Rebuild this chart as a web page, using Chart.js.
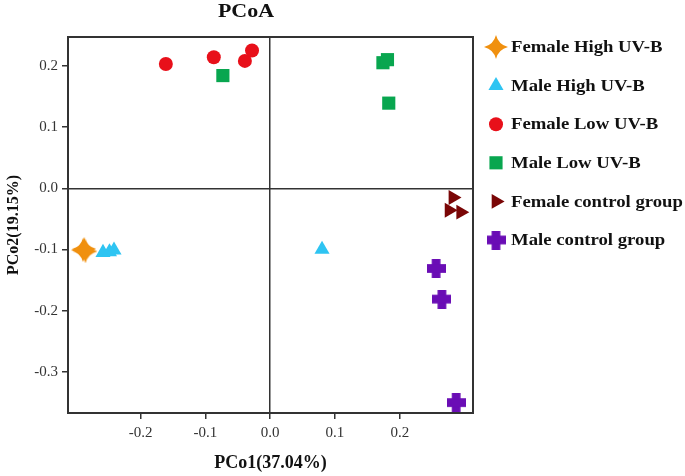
<!DOCTYPE html>
<html lang="en">
<head>
<meta charset="UTF-8">
<title>PCoA</title>
<style>
  body { margin: 0; background: #fff; }
</style>
</head>
<body>
<canvas id="myChart" width="685" height="476"></canvas>
<script src="https://cdn.jsdelivr.net/npm/chart.js@4.4.0/dist/chart.umd.min.js"></script>
<script>
// grupos y coordenadas
var grupos = ['Female High UV-B', 'Male High UV-B', 'Female Low UV-B', 'Male Low UV-B', 'Female control group', 'Male control group'];

var femHighX = [-0.289, -0.287, -0.285];
var femHighY = [-0.101, -0.099, -0.103];

var maleHighX = [-0.258, -0.248, -0.241, 0.080];
var maleHighY = [-0.105, -0.104, -0.101, -0.100];

var femLowX = [-0.161, -0.087, -0.039, -0.028];
var femLowY = [0.203, 0.214, 0.208, 0.225];

var maleLowX = [-0.073, 0.174, 0.181, 0.183];
var maleLowY = [0.184, 0.205, 0.210, 0.139];

var femCtrlX = [0.282, 0.276, 0.294];
var femCtrlY = [-0.015, -0.036, -0.039];

var maleCtrlX = [0.256, 0.265, 0.287];
var maleCtrlY = [-0.131, -0.181, -0.350];

var xTicks = [-0.2, -0.1, 0.0, 0.1, 0.2];
var yTicks = [0.2, 0.1, 0.0, -0.1, -0.2, -0.3];

var colores = ['#F0900F', '#2EC4F2', '#E8101A', '#08A64F', '#7A0606', '#6A0DB5'];

function puntos(xs, ys) {
    return xs.map(function (x, i) { return { x: x, y: ys[i] }; });
}

// estrella de 4 puntas
function estrella(size, color) {
    var c = document.createElement('canvas');
    c.width = size; c.height = size;
    var g = c.getContext('2d');
    var m = size / 2, k = size * 0.1;
    g.fillStyle = color;
    g.beginPath();
    g.moveTo(m, 0);
    g.quadraticCurveTo(m + k, m - k, size, m);
    g.quadraticCurveTo(m + k, m + k, m, size);
    g.quadraticCurveTo(m - k, m + k, 0, m);
    g.quadraticCurveTo(m - k, m - k, m, 0);
    g.fill();
    return c;
}

// cruz gruesa
function cruz(size, color) {
    var c = document.createElement('canvas');
    c.width = size; c.height = size;
    var g = c.getContext('2d');
    var t = size * 0.46, a = (size - t) / 2;
    g.fillStyle = color;
    g.fillRect(a, 0, t, size);
    g.fillRect(0, a, size, t);
    return c;
}

var estiloStar = estrella(24, colores[0]);
var estiloCruz = cruz(19, colores[5]);

var estilos = [
    { pointStyle: estiloStar, radius: 12, rotation: 0 },
    { pointStyle: 'triangle', radius: 8.7, rotation: 0 },
    { pointStyle: 'circle', radius: 7, rotation: 0 },
    { pointStyle: 'rect', radius: 9.3, rotation: 0 },
    { pointStyle: 'triangle', radius: 8.6, rotation: 90 },
    { pointStyle: estiloCruz, radius: 10, rotation: 0 }
];

var series = [
    puntos(femHighX, femHighY),
    puntos(maleHighX, maleHighY),
    puntos(femLowX, femLowY),
    puntos(maleLowX, maleLowY),
    puntos(femCtrlX, femCtrlY),
    puntos(maleCtrlX, maleCtrlY)
];

var datasets = series.map(function (d, i) {
    return {
        label: grupos[i],
        data: d,
        pointStyle: estilos[i].pointStyle,
        pointRadius: estilos[i].radius,
        pointHoverRadius: estilos[i].radius,
        rotation: estilos[i].rotation,
        backgroundColor: colores[i],
        borderColor: colores[i],
        borderWidth: 0
    };
});

var serif = 'Liberation Serif, Times New Roman, serif';

// texto un poco ensanchado, como en la figura original
function textoAncho(ctx, txt, x, y, sx) {
    ctx.save();
    ctx.translate(x, y);
    ctx.scale(sx, 1);
    ctx.fillText(txt, 0, 0);
    ctx.restore();
}

var marco = {
    id: 'marco',
    afterDraw: function (chart) {
        var ctx = chart.ctx, a = chart.chartArea;
        ctx.save();
        ctx.strokeStyle = '#333';
        ctx.lineWidth = 2;
        ctx.strokeRect(a.left, a.top, a.right - a.left, a.bottom - a.top);

        // titulo
        ctx.fillStyle = '#111';
        ctx.font = 'bold 18px ' + serif;
        ctx.textAlign = 'center';
        ctx.textBaseline = 'middle';
        textoAncho(ctx, 'PCoA', 246, 12, 1.22);

        // leyenda
        ctx.font = 'bold 16px ' + serif;
        ctx.textAlign = 'left';
        for (var i = 0; i < grupos.length; i++) {
            var y = 47 + i * 38.6;
            ctx.fillStyle = colores[i];
            Chart.helpers.drawPoint(ctx, {
                pointStyle: estilos[i].pointStyle,
                radius: estilos[i].radius,
                rotation: estilos[i].rotation,
                borderWidth: 0
            }, 496, y);
            ctx.fillStyle = '#111';
            textoAncho(ctx, grupos[i], 511, y + 1, 1.17);
        }
        ctx.restore();
    }
};

function colorCero(c) {
    return (c.tick && c.tick.value === 0) ? '#333' : 'rgba(0,0,0,0)';
}

var ctx = document.getElementById('myChart').getContext('2d');
var myChart = new Chart(ctx, {
    type: 'scatter',
    data: { datasets: datasets },
    options: {
        responsive: false,
        animation: false,
        layout: { padding: { top: 37, right: 212, left: 0, bottom: 0 } },
        plugins: {
            legend: { display: false },
            tooltip: { enabled: false }
        },
        scales: {
            x: {
                type: 'linear',
                min: -0.312,
                max: 0.313,
                afterBuildTicks: function (s) { s.ticks = xTicks.map(function (v) { return { value: v }; }); },
                afterFit: function (s) { s.height = 63; },
                ticks: {
                    color: '#333',
                    font: { family: serif, size: 15 },
                    padding: 5,
                    maxRotation: 0,
                    callback: function (v) { return Number(v).toFixed(1); }
                },
                grid: { color: colorCero, lineWidth: 1.5, tickColor: '#333', tickLength: 6 },
                border: { display: false },
                title: {
                    display: true,
                    text: 'PCo1(37.04%)',
                    color: '#111',
                    font: { family: serif, size: 18, weight: 'bold' },
                    padding: { top: 0, bottom: 2 }
                }
            },
            y: {
                type: 'linear',
                min: -0.367,
                max: 0.247,
                afterBuildTicks: function (s) { s.ticks = yTicks.map(function (v) { return { value: v }; }); },
                afterFit: function (s) { s.width = 68; },
                ticks: {
                    color: '#333',
                    font: { family: serif, size: 15 },
                    padding: 4,
                    callback: function (v) { return Number(v).toFixed(1); }
                },
                grid: { color: colorCero, lineWidth: 1.5, tickColor: '#333', tickLength: 6 },
                border: { display: false },
                title: {
                    display: true,
                    text: 'PCo2(19.15%)',
                    color: '#111',
                    font: { family: serif, size: 16, weight: 'bold' },
                    padding: { top: 4, bottom: 0 }
                }
            }
        }
    },
    plugins: [marco]
});
</script>
</body>
</html>
